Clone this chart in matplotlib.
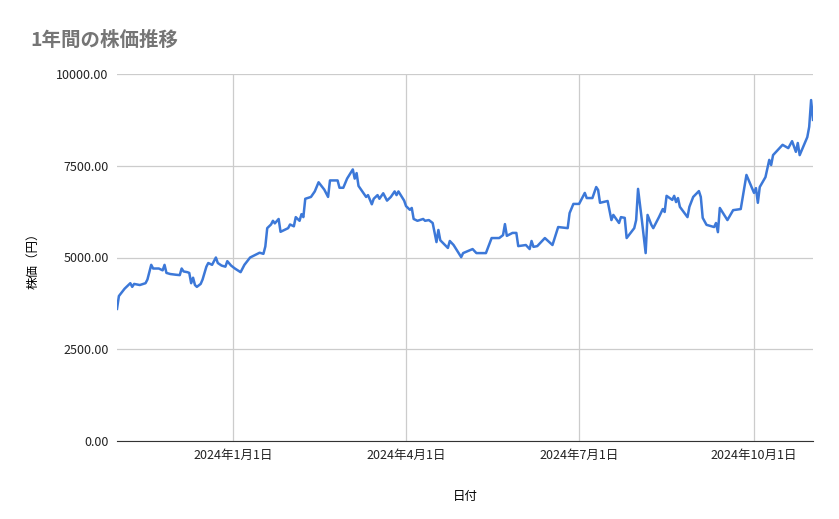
import numpy as np
import matplotlib
matplotlib.use("Agg")
import matplotlib.pyplot as plt
import matplotlib.dates as mdates
import datetime as dt

plt.rcParams['font.family'] = ['Noto Sans CJK JP', 'DejaVu Sans']

# days since 2023-11-01 and price (yen)
days = [0, 1, 4, 7, 8, 9, 12, 15, 16, 18, 19, 22, 24, 25, 26, 28, 31, 33, 34, 35,
        37, 38, 39, 40, 41, 42, 44, 45, 47, 48, 50, 52, 53, 55, 57, 58, 60, 62, 65, 67,
        70, 73, 75, 77, 78, 79, 81, 82, 83, 85, 86, 88, 90, 91, 93, 94, 96, 97, 98, 99,
        102, 104, 106, 109, 111, 112, 116, 117, 119, 121, 124, 125, 126, 127, 129, 131, 132, 134, 135, 137,
        138, 140, 142, 144, 146, 147, 148, 151, 152, 154, 155, 156, 158, 161, 162, 164, 166, 168, 169, 170,
        174, 175, 177, 181, 182, 187, 189, 194, 197, 201, 203, 204, 205, 208, 210, 211, 215, 217, 218, 219,
        221, 225, 229, 232, 237, 238, 240, 243, 246, 247, 250, 252, 253, 254, 258, 260, 261, 264, 265, 267,
        268, 272, 273, 274, 276, 278, 279, 281, 282, 285, 287, 288, 289, 292, 293, 294, 295, 296, 300, 301,
        303, 306, 307, 308, 310, 314, 315, 316, 317, 321, 324, 328, 331, 335, 336, 337, 338, 341, 343, 344,
        345, 350, 353, 355, 357, 358, 359, 363, 364, 365, 366]
prices = [3600, 3950, 4150, 4300, 4200, 4280, 4250, 4300, 4400, 4800, 4700, 4700, 4650, 4800, 4580, 4550, 4530, 4520, 4700, 4620,
          4600, 4580, 4300, 4450, 4250, 4200, 4280, 4400, 4750, 4850, 4800, 5000, 4850, 4780, 4750, 4900, 4780, 4700, 4600, 4800,
          5000, 5080, 5130, 5100, 5300, 5800, 5900, 6000, 5930, 6050, 5700, 5750, 5800, 5900, 5850, 6100, 6000, 6180, 6100, 6600,
          6650, 6800, 7050, 6850, 6650, 7100, 7100, 6900, 6900, 7150, 7400, 7150, 7300, 6950, 6800, 6650, 6700, 6450, 6600, 6700,
          6600, 6750, 6550, 6650, 6800, 6700, 6800, 6550, 6400, 6300, 6350, 6050, 6000, 6050, 6000, 6020, 5940, 5420, 5750, 5470,
          5260, 5450, 5340, 5010, 5120, 5230, 5120, 5120, 5530, 5530, 5610, 5910, 5590, 5670, 5670, 5310, 5340, 5230, 5450, 5290,
          5310, 5530, 5340, 5830, 5800, 6210, 6460, 6460, 6760, 6620, 6620, 6920, 6840, 6490, 6540, 6020, 6160, 5940, 6100, 6080,
          5530, 5800, 6020, 6870, 6020, 5120, 6160, 5890, 5800, 6100, 6320, 6240, 6680, 6570, 6680, 6510, 6620, 6380, 6100, 6380,
          6650, 6810, 6650, 6080, 5890, 5830, 5940, 5690, 6350, 6020, 6290, 6320, 7250, 6760, 6890, 6490, 6920, 7190, 7660, 7520,
          7790, 8070, 7980, 8170, 7880, 8120, 7790, 8280, 8560, 9290, 8750]

start = dt.date(2023, 11, 1)
dates = [start + dt.timedelta(days=d) for d in days]
tick_dates = [dt.date(2024, 1, 1), dt.date(2024, 4, 1), dt.date(2024, 7, 1), dt.date(2024, 10, 1)]
tick_labels = ['2024年1月1日', '2024年4月1日', '2024年7月1日', '2024年10月1日']
y_ticks = [0, 2500, 5000, 7500, 10000]

fig = plt.figure(figsize=(8.39, 5.19), dpi=100)
ax = fig.add_axes([117/839, 1-441/519, (813-117)/839, (441-74)/519])
ax.plot(dates, prices, color='#3c78d8', linewidth=1.8)

ax.set_xlim(dates[0], dates[-1])
ax.set_ylim(0, 10000)
ax.set_xticks(tick_dates)
ax.set_xticklabels(tick_labels)
ax.set_yticks(y_ticks)
ax.set_yticklabels([f'{v:.2f}' for v in y_ticks])
ax.grid(True, color='#cccccc', linewidth=0.9)
ax.set_axisbelow(True)
for s in ['top', 'right', 'left']:
    ax.spines[s].set_visible(False)
ax.spines['bottom'].set_color('#333333')
ax.tick_params(length=0, labelsize=9, colors='#222222', pad=6)

ax.set_xlabel('日付', fontsize=9, labelpad=20)
ax.set_ylabel('株価（円）', fontsize=9, labelpad=12)
fig.text(30/839, 1-40/519, '1年間の株価推移', fontsize=14, color='#757575',
         fontweight='bold', va='center')

fig.savefig('out.png', dpi=100)
